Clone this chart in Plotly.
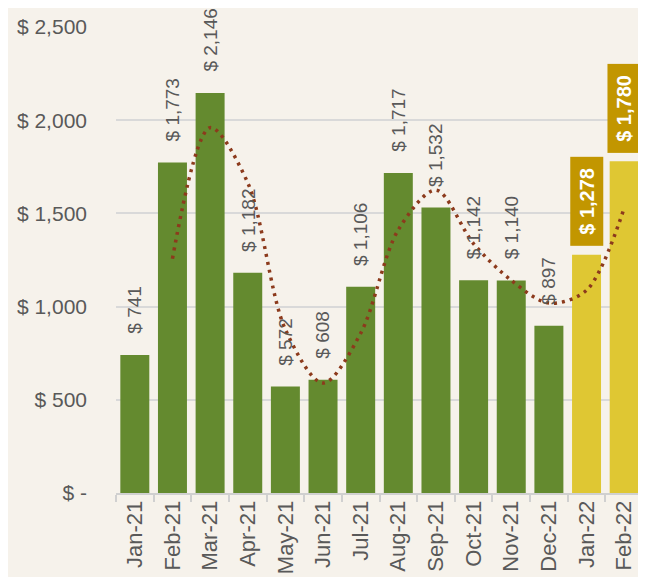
import plotly.graph_objects as go

months = ["Jan-21", "Feb-21", "Mar-21", "Apr-21", "May-21", "Jun-21", "Jul-21",
          "Aug-21", "Sep-21", "Oct-21", "Nov-21", "Dec-21", "Jan-22", "Feb-22"]
sales = [741, 1773, 2146, 1182, 572, 608, 1106, 1717, 1532, 1142, 1140, 897, 1278, 1780]
# 2-period moving average trendline
trend_months = months[1:]
trend = [1257, 1960, 1664, 877, 590, 857, 1412, 1625, 1337, 1141, 1019, 1088, 1529]

y_ticks = [0, 500, 1000, 1500, 2000, 2500]
y_tick_text = ["$ -", "$ 500", "$ 1,000", "$ 1,500", "$ 2,000", "$ 2,500"]

GREEN = "#648a2f"
YELLOW = "#dfc733"
GOLD = "#c29600"
TEXT = "#595959"
BG = "#f6f2eb"

colors = [GREEN if m.endswith("21") else YELLOW for m in months]

fig = go.Figure()

fig.add_trace(go.Bar(
    x=months,
    y=sales,
    marker=dict(color=colors, line=dict(width=0)),
    showlegend=False,
))

fig.add_trace(go.Scatter(
    x=trend_months,
    y=trend,
    mode="lines",
    line=dict(color="#8c3a1c", width=3.5, dash="3px,5px", shape="spline", smoothing=0.9),
    showlegend=False,
))

# value labels: plain for 2021, boxed and bold for 2022
for m, v in zip(months, sales):
    if m.endswith("21"):
        fig.add_annotation(
            x=m, y=v,
            text=f"$ {v:,}",
            textangle=-90,
            showarrow=False,
            yanchor="bottom",
            yshift=19,
            font=dict(size=19, color=TEXT),
        )
    else:
        fig.add_annotation(
            x=m, y=v,
            text=f"\u00a0<b>$ {v:,}</b>\u00a0",
            textangle=-90,
            showarrow=False,
            yanchor="bottom",
            yshift=8,
            bgcolor=GOLD,
            borderpad=5,
            font=dict(size=20, color="white"),
        )

# page body has an 8px margin, so the figure is shifted by that much
fig.update_layout(
    width=638,
    height=569,
    margin=dict(l=108, r=3, t=19, b=84),
    paper_bgcolor=BG,
    plot_bgcolor=BG,
    bargap=0.23,
    font=dict(family="Liberation Sans, Arial, sans-serif", color=TEXT),
    xaxis=dict(
        tickangle=-90,
        tickfont=dict(size=22, color=TEXT),
        showline=True,
        linecolor="#d0d0d0",
        linewidth=2,
        ticks="outside",
        tickson="boundaries",
        ticklen=7,
        tickcolor="#d0d0d0",
        tickwidth=2,
        ticklabelstandoff=-3,
        showgrid=False,
        automargin=False,
    ),
    yaxis=dict(
        range=[0, 2500],
        tickvals=y_ticks,
        ticktext=y_tick_text,
        tickfont=dict(size=21, color=TEXT),
        showgrid=True,
        gridcolor="#d9d9d9",
        gridwidth=2,
        zeroline=False,
        ticklabelstandoff=28,
        automargin=False,
    ),
)

fig.write_html("out.html")
